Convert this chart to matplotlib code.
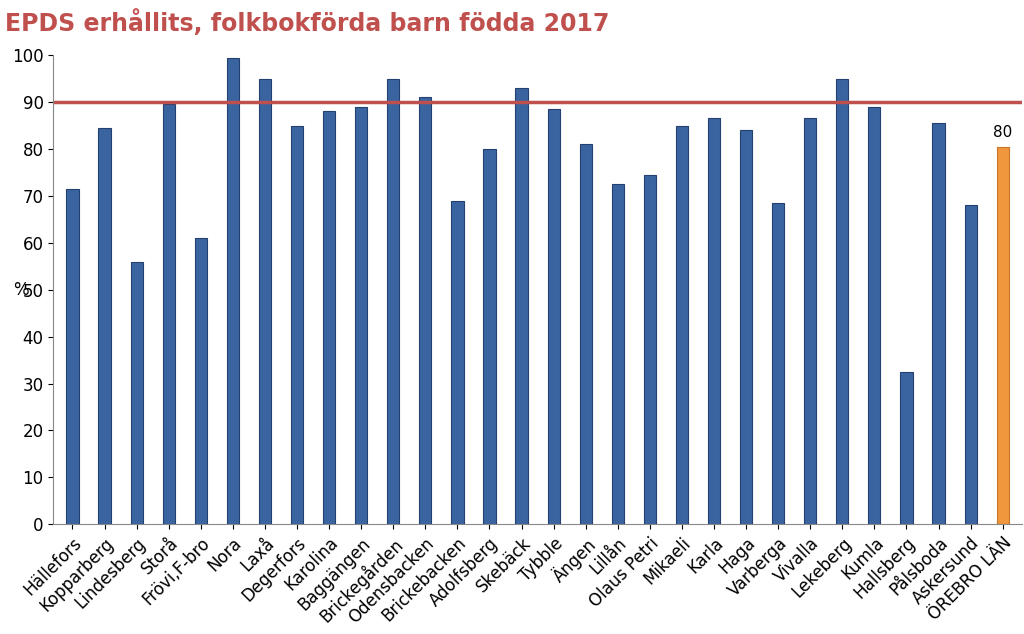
import numpy as np
import matplotlib.pyplot as plt

categories = ["Hällefors", "Kopparberg", "Lindesberg", "Storå", "Frövi,F-bro", "Nora", "Laxå",
              "Degerfors", "Karolina", "Baggängen", "Brickegården", "Odensbacken", "Brickebacken",
              "Adolfsberg", "Skebäck", "Tybble", "Ängen", "Lillån", "Olaus Petri", "Mikaeli",
              "Karla", "Haga", "Varberga", "Vivalla", "Lekeberg", "Kumla", "Hallsberg",
              "Pålsboda", "Askersund", "ÖREBRO LÄN"]
values = [71.5, 84.5, 56, 89.5, 61, 99.5, 95, 85, 88, 89, 95, 91, 69, 80, 93, 88.5, 81,
          72.5, 74.5, 85, 86.5, 84, 68.5, 86.5, 95, 89, 32.5, 85.5, 68, 80.5]
target = 90

fig = plt.figure(figsize=(10.24, 6.34), dpi=100)
ax = fig.add_axes([0.052, 0.173, 0.946, 0.74])

x = np.arange(len(categories))
colors = ["#3a64a0"] * (len(values) - 1) + ["#f0963c"]
edges = ["#23406e"] * (len(values) - 1) + ["#c8742a"]
ax.bar(x, values, width=0.38, color=colors, edgecolor=edges, linewidth=0.8)
ax.axhline(target, color="#c0504d", linewidth=2.5)
ax.text(x[-1], values[-1] + 1.5, "80", ha="center", va="bottom", fontsize=11)

ax.set_xlim(-0.6, len(values) - 0.4)
ax.set_ylim(0, 100)
ax.set_yticks(range(0, 101, 10))
ax.tick_params(axis="y", labelsize=12)
ax.set_xticks(x)
ax.set_xticklabels(categories, rotation=45, ha="right", rotation_mode="anchor", fontsize=12)
ax.set_ylabel("%", rotation=0, fontsize=12, va="center")
ax.yaxis.set_label_coords(-0.033, 0.5)
for s in ["top", "right"]:
    ax.spines[s].set_visible(False)
ax.spines["left"].set_color("#888888")
ax.spines["bottom"].set_color("#888888")

fig.text(0.005, 0.965, "EPDS erhållits, folkbokförda barn födda 2017", color="#c0504d",
         fontsize=17, fontweight="bold", va="center")

fig.savefig("out.png")
